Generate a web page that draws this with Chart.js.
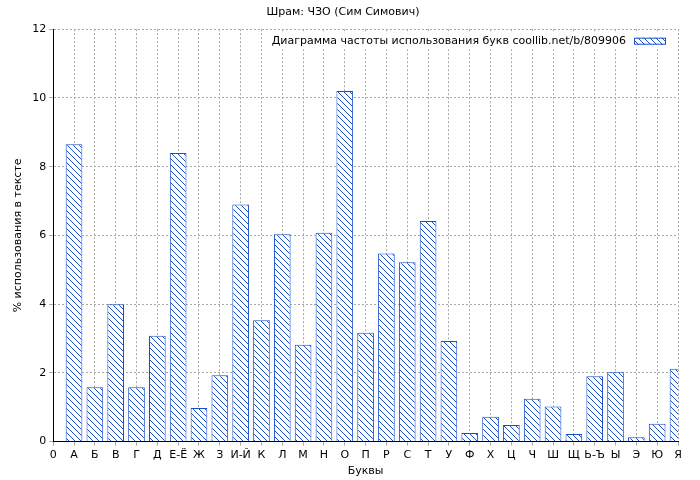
<!DOCTYPE html>
<html>
<head>
<meta charset="utf-8">
<script src="https://cdn.jsdelivr.net/npm/chart.js@4/dist/chart.umd.min.js"></script>
<style>
  body { margin: 0; background: #fff; }
  #wrap { width: 700px; height: 480px; }
</style>
</head>
<body>
<div id="wrap"><canvas id="chart"></canvas></div>
<script>
// Data
const letters = ["0", "А", "Б", "В", "Г", "Д", "Е-Ё", "Ж", "З", "И-Й", "К", "Л", "М", "Н", "О", "П",
  "Р", "С", "Т", "У", "Ф", "Х", "Ц", "Ч", "Ш", "Щ", "Ь-Ъ", "Ы", "Э", "Ю", "Я"];
const percents = [null, 8.65, 1.58, 4.0, 1.58, 3.08, 8.4, 0.98, 1.93, 6.9, 3.53, 6.03, 2.82, 6.08, 10.2, 3.17,
  5.47, 5.22, 6.42, 2.93, 0.25, 0.72, 0.48, 1.25, 1.02, 0.22, 1.9, 2.02, 0.13, 0.52, 2.12];
const yTicks = [0, 2, 4, 6, 8, 10, 12];
const legendText = "Диаграмма частоты использования букв coollib.net/b/809906";

const blue = "#1a4fc8";
const font = { family: "DejaVu Sans", size: 11, weight: "normal" };

// hatch pattern
const pc = document.createElement("canvas");
pc.width = 6; pc.height = 6;
const p = pc.getContext("2d");
p.fillStyle = "#fff"; p.fillRect(0, 0, 6, 6);
p.strokeStyle = blue; p.lineWidth = 1;
p.beginPath();
p.moveTo(0, 0); p.lineTo(6, 6);
p.moveTo(-3, 3); p.lineTo(3, 9);
p.moveTo(3, -3); p.lineTo(9, 3);
p.stroke();
const ctx = document.getElementById("chart").getContext("2d");
const hatch = ctx.createPattern(pc, "repeat");

// legend drawn inside the plot, top right
const insideLegend = {
  id: "insideLegend",
  afterDatasetsDraw(chart) {
    const c = chart.ctx, a = chart.chartArea;
    c.save();
    c.font = "11px 'DejaVu Sans'";
    const tw = c.measureText(legendText).width;
    const boxW = 32, boxH = 7;
    const right = a.right - 12, top = a.top + 4;
    const left = right - boxW - 8 - tw;
    c.fillStyle = "#fff";
    c.fillRect(left - 4, top, right - left + 8, 16);
    c.fillStyle = "#000";
    c.textBaseline = "middle";
    c.fillText(legendText, left, top + 8);
    c.fillStyle = hatch;
    c.fillRect(right - boxW, top + 8 - boxH / 2, boxW, boxH);
    c.strokeStyle = blue;
    c.strokeRect(right - boxW + 0.5, top + 8 - boxH / 2 + 0.5, boxW - 1, boxH - 1);
    c.restore();
  }
};

new Chart(ctx, {
  type: "bar",
  data: {
    labels: letters,
    datasets: [{
      label: legendText,
      data: percents,
      backgroundColor: hatch,
      borderColor: blue,
      borderWidth: 1,
      categoryPercentage: 1,
      barPercentage: 0.8
    }]
  },
  options: {
    responsive: true,
    maintainAspectRatio: false,
    animation: false,
    layout: { padding: { right: 22, top: 2, bottom: 2, left: 8 } },
    plugins: {
      title: { display: true, text: "Шрам: ЧЗО (Сим Симович)", color: "#000", font: font, padding: { top: 4, bottom: 10 } },
      legend: { display: false },
      tooltip: { enabled: false }
    },
    scales: {
      x: {
        offset: false,
        grid: { offset: false, color: "#aaa", tickLength: 4 },
        border: { color: "#000", dash: [2, 2] },
        ticks: { color: "#000", font: font, maxRotation: 0, autoSkip: false },
        title: { display: true, text: "Буквы", color: "#000", font: font, padding: 0 }
      },
      y: {
        min: 0, max: 12,
        afterBuildTicks: axis => { axis.ticks = yTicks.map(v => ({ value: v })); },
        grid: { color: "#aaa", tickLength: 4 },
        border: { color: "#000", dash: [2, 2] },
        ticks: { color: "#000", font: font },
        title: { display: true, text: "% использования в тексте", color: "#000", font: font }
      }
    }
  },
  plugins: [insideLegend]
});
</script>
</body>
</html>
